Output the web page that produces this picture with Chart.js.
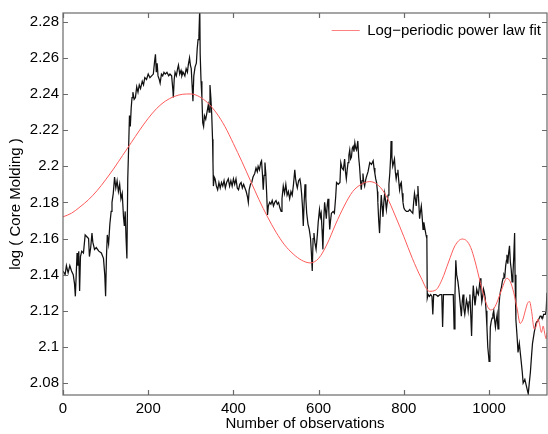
<!DOCTYPE html>
<html><head><meta charset="utf-8">
<script src="https://cdn.jsdelivr.net/npm/chart.js@4.4.1/dist/chart.umd.min.js"></script>
<style>html,body{margin:0;padding:0;background:#fff;}canvas{display:block;}</style>
</head><body>
<canvas id="c" width="548" height="434"></canvas>
<script>
// Observed series: [observation number, log(Core Molding)]
const coreMolding = [
[0,2.142],[5,2.140],[8,2.145],[12,2.141],[16,2.145],[20,2.142],[24,2.140],[27,2.135],[29,2.128],[31,2.140],[33,2.152],[35,2.145],[37,2.153],[39,2.131],[41,2.150],[44,2.153],[48,2.152],[52,2.162],[56,2.161],[60,2.160],[62,2.150],[65,2.155],[68,2.163],[70,2.158],[74,2.154],[78,2.155],[84,2.153],[90,2.152],[95,2.149],[98,2.140],[100,2.128],[102,2.150],[104,2.162],[107,2.157],[110,2.168],[113,2.175],[115,2.180],[118,2.185],[121,2.194],[124,2.188],[127,2.192],[130,2.186],[133,2.190],[136,2.182],[139,2.185],[142,2.172],[144,2.167],[146,2.175],[148,2.160],[150,2.149],[152,2.193],[154,2.210],[156,2.228],[158,2.222],[160,2.232],[162,2.238],[164,2.241],[167,2.237],[170,2.238],[173,2.244],[176,2.241],[179,2.245],[182,2.243],[186,2.247],[189,2.245],[192,2.249],[196,2.248],[200,2.251],[204,2.249],[208,2.250],[212,2.251],[215,2.258],[217,2.262],[219,2.252],[221,2.257],[223,2.250],[226,2.248],[228,2.246],[231,2.251],[234,2.250],[237,2.252],[240,2.251],[244,2.252],[248,2.250],[251,2.251],[255,2.250],[258,2.242],[259,2.238],[261,2.248],[263,2.252],[266,2.250],[269,2.254],[271,2.256],[274,2.251],[277,2.253],[279,2.250],[282,2.252],[286,2.250],[289,2.254],[292,2.252],[294,2.256],[297,2.260],[299,2.256],[301,2.254],[303,2.245],[305,2.236],[307,2.250],[310,2.255],[313,2.257],[315,2.265],[317,2.270],[319,2.272],[321,2.288],[322,2.262],[324,2.247],[326,2.238],[328,2.224],[330,2.222],[332,2.228],[335,2.226],[338,2.230],[341,2.234],[343,2.230],[345,2.245],[347,2.238],[349,2.229],[351,2.215],[352,2.202],[353,2.189],[355,2.194],[357,2.193],[360,2.189],[363,2.187],[366,2.191],[369,2.188],[372,2.191],[375,2.189],[378,2.192],[381,2.188],[384,2.191],[388,2.193],[391,2.189],[394,2.192],[397,2.189],[400,2.193],[403,2.190],[406,2.193],[409,2.188],[412,2.187],[415,2.190],[418,2.191],[421,2.188],[424,2.190],[427,2.188],[430,2.186],[433,2.183],[435,2.180],[437,2.187],[440,2.190],[443,2.191],[446,2.194],[450,2.196],[453,2.199],[456,2.197],[458,2.200],[461,2.198],[464,2.202],[466,2.203],[468,2.196],[470,2.187],[472,2.195],[474,2.202],[476,2.196],[478,2.185],[480,2.173],[482,2.178],[485,2.180],[488,2.179],[491,2.181],[494,2.178],[497,2.180],[500,2.181],[503,2.179],[506,2.180],[509,2.177],[512,2.175],[514,2.182],[517,2.189],[520,2.185],[523,2.190],[526,2.184],[529,2.186],[532,2.182],[535,2.186],[538,2.184],[541,2.190],[544,2.198],[546,2.193],[548,2.190],[550,2.188],[553,2.192],[556,2.193],[558,2.190],[560,2.185],[562,2.178],[564,2.167],[566,2.180],[568,2.190],[570,2.182],[572,2.174],[575,2.168],[578,2.165],[581,2.160],[583,2.152],[585,2.142],[587,2.160],[589,2.163],[591,2.158],[594,2.154],[597,2.162],[599,2.169],[602,2.176],[604,2.172],[606,2.174],[608,2.165],[610,2.154],[612,2.170],[614,2.180],[616,2.176],[618,2.171],[620,2.178],[622,2.182],[624,2.175],[626,2.165],[628,2.170],[630,2.174],[634,2.175],[637,2.174],[640,2.183],[642,2.191],[646,2.190],[650,2.191],[652,2.202],[655,2.199],[658,2.198],[661,2.204],[663,2.197],[665,2.193],[667,2.198],[669,2.202],[671,2.206],[673,2.209],[675,2.204],[677,2.205],[679,2.210],[681,2.211],[683,2.208],[685,2.213],[687,2.210],[689,2.209],[692,2.214],[694,2.205],[696,2.200],[698,2.193],[700,2.187],[702,2.192],[704,2.196],[706,2.191],[708,2.189],[710,2.192],[712,2.194],[716,2.197],[720,2.202],[724,2.201],[728,2.203],[730,2.199],[732,2.196],[734,2.193],[736,2.191],[738,2.186],[739,2.180],[741,2.170],[743,2.163],[745,2.175],[747,2.184],[749,2.178],[751,2.172],[753,2.180],[755,2.185],[757,2.181],[759,2.176],[761,2.180],[763,2.184],[765,2.190],[767,2.196],[769,2.205],[770,2.214],[772,2.205],[774,2.200],[776,2.202],[778,2.204],[780,2.197],[782,2.193],[784,2.196],[786,2.198],[788,2.192],[790,2.187],[792,2.190],[794,2.191],[796,2.185],[798,2.180],[800,2.177],[802,2.176],[806,2.175],[810,2.175],[814,2.176],[817,2.175],[821,2.174],[823,2.180],[825,2.185],[827,2.182],[829,2.178],[831,2.184],[833,2.189],[835,2.180],[837,2.171],[839,2.175],[841,2.178],[843,2.172],[845,2.165],[847,2.169],[849,2.166],[852,2.162],[854,2.160],[855,2.127],[857,2.129],[860,2.128],[863,2.129],[866,2.128],[868,2.118],[870,2.129],[875,2.129],[880,2.128],[885,2.129],[889,2.129],[891,2.111],[893,2.129],[898,2.129],[903,2.129],[908,2.129],[913,2.129],[916,2.129],[918,2.110],[920,2.129],[922,2.148],[924,2.140],[927,2.136],[929,2.132],[931,2.127],[933,2.122],[935,2.117],[937,2.125],[939,2.129],[941,2.121],[943,2.118],[945,2.122],[947,2.126],[949,2.124],[951,2.120],[953,2.125],[955,2.129],[957,2.118],[959,2.106],[961,2.125],[963,2.134],[965,2.128],[967,2.123],[969,2.127],[971,2.132],[973,2.130],[975,2.129],[977,2.133],[979,2.138],[981,2.131],[983,2.125],[985,2.128],[987,2.132],[989,2.130],[991,2.127],[993,2.120],[995,2.111],[997,2.100],[999,2.095],[1000,2.092],[1002,2.100],[1003,2.111],[1005,2.114],[1007,2.116],[1009,2.118],[1011,2.120],[1013,2.115],[1015,2.111],[1017,2.115],[1019,2.118],[1021,2.110],[1023,2.122],[1025,2.128],[1027,2.131],[1029,2.133],[1031,2.136],[1033,2.138],[1035,2.140],[1037,2.139],[1039,2.145],[1041,2.148],[1042,2.151],[1044,2.146],[1046,2.152],[1048,2.156],[1050,2.147],[1052,2.143],[1054,2.136],[1056,2.140],[1058,2.150],[1060,2.163],[1061,2.140],[1063,2.115],[1066,2.105],[1068,2.097],[1071,2.102],[1075,2.093],[1078,2.086],[1080,2.080],[1084,2.082],[1087,2.079],[1090,2.076],[1092,2.074],[1094,2.079],[1097,2.086],[1100,2.096],[1102,2.102],[1106,2.108],[1110,2.113],[1112,2.114],[1114,2.114],[1116,2.115],[1118,2.116],[1120,2.117],[1122,2.117],[1124,2.116],[1126,2.116],[1128,2.118],[1130,2.118],[1132,2.118],[1134,2.120],[1136,2.130]
];
// Log-periodic power law fit
const lppFit = [
[0,2.1720],[20,2.1740],[40,2.1775],[60,2.1815],[80,2.1865],[100,2.1925],[120,2.1990],[140,2.2060],[160,2.2130],[180,2.2200],[200,2.2265],[220,2.2320],[240,2.2360],[260,2.2385],[280,2.2398],[300,2.2400],[320,2.2385],[340,2.2350],[360,2.2295],[380,2.2220],[400,2.2125],[420,2.2025],[440,2.1920],[460,2.1815],[480,2.1720],[500,2.1635],[520,2.1565],[540,2.1515],[560,2.1480],[580,2.1465],[600,2.1490],[620,2.1570],[640,2.1680],[660,2.1780],[680,2.1860],[700,2.1900],[720,2.1915],[740,2.1895],[760,2.1830],[780,2.1725],[800,2.1610],[820,2.1490],[840,2.1385],[860,2.1308],[875,2.1315],[890,2.1375],[905,2.1470],[920,2.1560],[937,2.1597],[947,2.1588],[957,2.1550],[967,2.1475],[977,2.1380],[987,2.1290],[996,2.1225],[1004,2.1205],[1012,2.1215],[1020,2.1255],[1030,2.1320],[1042,2.1380],[1050,2.1360],[1058,2.1300],[1066,2.1210],[1073,2.1130],[1079,2.1150],[1085,2.1200],[1090,2.1240],[1095,2.1252],[1100,2.1195],[1106,2.1100],[1110,2.1110],[1115,2.1155],[1119,2.1120],[1123,2.1080],[1127,2.1115],[1131,2.1070],[1134,2.1045],[1136,2.1080]
];
const xTickValues = [0, 200, 400, 600, 800, 1000];
const yTickValues = [2.08, 2.1, 2.12, 2.14, 2.16, 2.18, 2.2, 2.22, 2.24, 2.26, 2.28];
const xRange = [0, 1136];
const yRange = [2.0734, 2.2848];
const xTitle = 'Number of observations';
const yTitle = 'log ( Core Molding )';
const fitName = 'Log\u2212periodic power law fit';
const dataName = 'Core Molding';

const FONT = {family: "'Liberation Sans', Arial, Helvetica, sans-serif", size: 15};
const RED = '#ff5a5a';

const framePlugin = {
  id: 'frame',
  afterDatasetsDraw(chart) {
    const {ctx, chartArea: a, scales} = chart;
    const L = 5;
    ctx.save();
    ctx.strokeStyle = '#6a6a6a';
    ctx.lineWidth = 1.2;
    ctx.strokeRect(a.left, a.top, a.right - a.left, a.bottom - a.top);
    ctx.beginPath();
    scales.x.ticks.forEach(t => {
      const px = Math.round(scales.x.getPixelForValue(t.value)) + 0.5;
      ctx.moveTo(px, a.bottom); ctx.lineTo(px, a.bottom - L);
      ctx.moveTo(px, a.top); ctx.lineTo(px, a.top + L);
    });
    scales.y.ticks.forEach(t => {
      const py = Math.round(scales.y.getPixelForValue(t.value)) + 0.5;
      ctx.moveTo(a.left, py); ctx.lineTo(a.left + L, py);
      ctx.moveTo(a.right, py); ctx.lineTo(a.right - L, py);
    });
    ctx.stroke();
    ctx.restore();
  }
};

// Put the legend in the upper right corner of the plot area
const legendPlace = {
  id: 'legendPlace',
  afterLayout(chart) {
    const lg = chart.legend;
    if (!lg) return;
    const ctx = chart.ctx;
    ctx.save();
    ctx.font = FONT.size + 'px ' + FONT.family;
    const tw = ctx.measureText(fitName).width;
    ctx.restore();
    const lab = lg.options.labels;
    const w = lg.width;
    lg.left = chart.chartArea.right - 6 - tw - FONT.size / 2 - lab.boxWidth - lab.padding;
    lg.right = lg.left + w;
    lg.top = chart.chartArea.top;
    lg.bottom = lg.top + lg.height;
  }
};

new Chart(document.getElementById('c'), {
  type: 'line',
  data: {
    datasets: [
      {
        label: dataName,
        data: coreMolding.map(p => ({x: p[0], y: p[1]})),
        borderColor: '#111111',
        borderWidth: 1.25,
        pointRadius: 0,
        tension: 0,
        fill: false,
        order: 2
      },
      {
        label: fitName,
        data: lppFit.map(p => ({x: p[0], y: p[1]})),
        borderColor: RED,
        backgroundColor: RED,
        borderWidth: 1,
        pointRadius: 0,
        cubicInterpolationMode: 'monotone',
        fill: false,
        order: 1
      }
    ]
  },
  options: {
    responsive: false,
    devicePixelRatio: 1,
    animation: false,
    layout: {padding: {left: 0, right: 1, top: 8, bottom: 0}},
    plugins: {
      legend: {
        position: 'chartArea',
        align: 'start',
        labels: {
          font: FONT,
          color: '#000',
          boxWidth: 28,
          boxHeight: 1,
          padding: 10,
          filter: item => item.datasetIndex === 1,
          generateLabels: chart => {
            const items = Chart.defaults.plugins.legend.labels.generateLabels(chart);
            items.forEach(it => { it.lineWidth = 0; it.fillStyle = '#ff8080'; });
            return items;
          }
        }
      },
      tooltip: {enabled: false}
    },
    scales: {
      x: {
        type: 'linear',
        min: xRange[0],
        max: xRange[1],
        afterBuildTicks: s => { s.ticks = xTickValues.map(v => ({value: v})); },
        afterFit: s => { s.height = 39; },
        grid: {display: false, drawTicks: false},
        border: {display: false},
        ticks: {font: FONT, color: '#000', padding: 5, maxRotation: 0, callback: v => String(v)},
        title: {display: true, text: xTitle, font: FONT, color: '#000', padding: {top: 0, bottom: 1}}
      },
      y: {
        type: 'linear',
        min: yRange[0],
        max: yRange[1],
        afterBuildTicks: s => { s.ticks = yTickValues.map(v => ({value: v})); },
        afterFit: s => { s.width = 63; },
        grid: {display: false, drawTicks: false},
        border: {display: false},
        ticks: {font: FONT, color: '#000', padding: 4, callback: v => String(Math.round(v * 100) / 100)},
        title: {display: true, text: yTitle, font: FONT, color: '#000', padding: {top: 7, bottom: 0}}
      }
    }
  },
  plugins: [framePlugin, legendPlace]
});
</script>
</body></html>
